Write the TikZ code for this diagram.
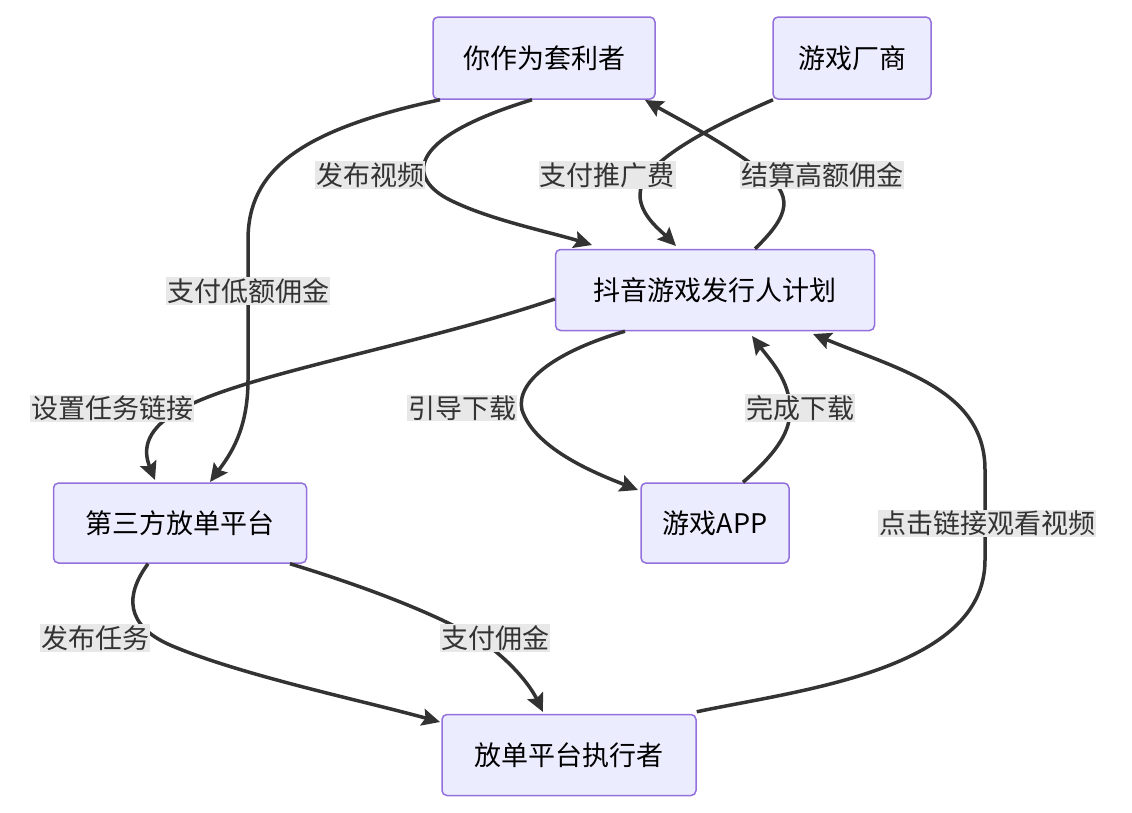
\documentclass[tikz,border=0pt]{standalone}
\usepackage{fontspec}
\setmainfont{Noto Sans CJK SC}
\usetikzlibrary{arrows.meta}
\begin{document}
\begin{tikzpicture}[x=1pt,y=-1pt,
  box/.style={draw=violet!60!blue!70!white,draw={rgb,255:red,147;green,112;blue,219},fill={rgb,255:red,236;green,236;blue,255},line width=1.5pt,rounded corners=5pt,font=\fontsize{27}{30}\selectfont,inner sep=0pt},
  e/.style={draw={rgb,255:red,51;green,51;blue,51},line width=3.5pt,-{Stealth[length=18pt,width=17pt,inset=3pt]}},
  lbl/.style={fill={rgb,255:red,232;green,232;blue,232},font=\fontsize{27}{30}\selectfont,inner sep=1pt,text={rgb,255:red,51;green,51;blue,51}}]
\useasboundingbox (0,0) rectangle (1132,812);
\node[box,minimum width=222pt,minimum height=82pt] (me) at (544,58) {你作为套利者};
\node[box,minimum width=158pt,minimum height=82pt] (vendor) at (852,58) {游戏厂商};
\node[box,minimum width=319pt,minimum height=81pt] (plan) at (715,290) {抖音游戏发行人计划};
\node[box,minimum width=253pt,minimum height=80pt] (third) at (180,523) {第三方放单平台};
\node[box,minimum width=148pt,minimum height=80pt] (app) at (715,523) {游戏APP};
\node[box,minimum width=254pt,minimum height=81pt] (exec) at (569,755) {放单平台执行者};
% edges
\draw[e] ([xshift=-12pt]me.south) .. controls (400,140) and (410,180) .. (450,200) .. controls (490,220) and (550,232) .. (592,245);
\draw[e] ([xshift=-104pt]me.south) .. controls (300,130) and (248,170) .. (248,240) -- (248,380) .. controls (248,430) and (230,455) .. (210,482);
\draw[e] ([xshift=-79pt]vendor.south) .. controls (680,140) and (640,170) .. (640,195) .. controls (640,215) and (660,230) .. (676,246);
\draw[e] ([xshift=40pt]plan.north) .. controls (790,215) and (795,195) .. (760,170) .. controls (720,140) and (680,120) .. (645,100);
\draw[e] ([yshift=-9pt]plan.west) .. controls (420,345) and (240,375) .. (180,410) .. controls (140,432) and (145,455) .. (155,480);
\draw[e] ([xshift=-90pt]plan.south) .. controls (560,350) and (515,380) .. (522,410) .. controls (535,450) and (600,475) .. (638,490);
\draw[e] ([xshift=28pt]app.north) .. controls (780,450) and (790,430) .. (790,410) .. controls (790,380) and (770,360) .. (752,336);
\draw[e] ([xshift=-32pt]third.south) .. controls (125,595) and (125,625) .. (170,645) .. controls (240,675) and (360,700) .. (440,722);
\draw[e] ([xshift=110pt]third.south) .. controls (350,582) and (430,610) .. (480,640) .. controls (510,660) and (530,685) .. (543,712);
\draw[e] ([yshift=2pt]exec.north east) .. controls (800,690) and (985,670) .. (985,560) -- (985,470) .. controls (985,390) and (900,370) .. (813,334);
% labels
\node[lbl] (l1) at (370,175) {发布视频};
\node[lbl] (l2) at (248,291) {支付低额佣金};
\node[lbl] (l3) at (607,175) {支付推广费};
\node[lbl] (l4) at (822,175) {结算高额佣金};
\node[lbl] (l5) at (112,408) {设置任务链接};
\node[lbl] (l6) at (462,408) {引导下载};
\node[lbl] (l7) at (800,408) {完成下载};
\node[lbl] (l8) at (95,638) {发布任务};
\node[lbl] (l9) at (495,638) {支付佣金};
\node[lbl] (l10) at (987,523) {点击链接观看视频};
\end{tikzpicture}
\end{document}
